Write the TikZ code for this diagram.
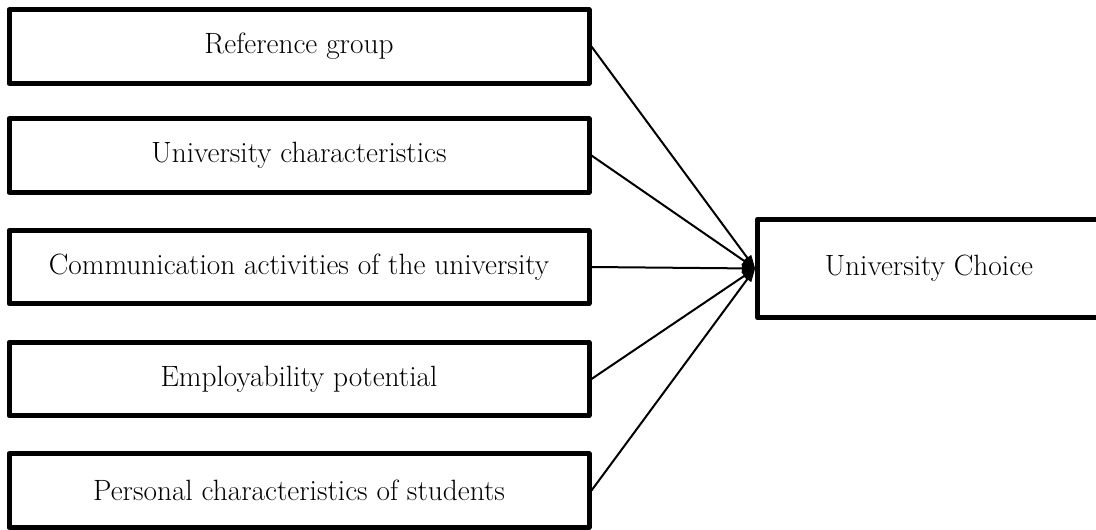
\documentclass[tikz,border=0pt]{standalone}
\usetikzlibrary{arrows.meta}
\begin{document}
\begin{tikzpicture}[x=0.75pt,y=-0.75pt,
  factor/.style={draw=black,line width=3.75pt,line join=round,fill=white,
    minimum width=435pt,minimum height=55pt,inner sep=0pt,
    font=\fontsize{22}{26}\selectfont},
  outcome/.style={draw=black,line width=3.75pt,line join=round,fill=white,
    minimum width=257pt,minimum height=74pt,inner sep=0pt,
    font=\fontsize{22}{26}\selectfont},
  link/.style={line width=1.5pt,-{Triangle[length=10pt,width=7pt]}}]
\useasboundingbox (0,0) rectangle (1096,529);
\node[factor] (f1) at (299,46.5) {Reference group};
\node[factor] (f2) at (299,155.5) {University characteristics};
\node[factor] (f3) at (299,267) {Communication activities of the university};
\node[factor] (f4) at (299,379) {Employability potential};
\node[factor] (f5) at (299,490.5) {Personal characteristics of students};
\node[outcome] (uc) at (929,268.5) {University Choice};
\foreach \i in {1,...,5}{
  \draw[link] (f\i.east) -- (uc.west);
}
\end{tikzpicture}
\end{document}
